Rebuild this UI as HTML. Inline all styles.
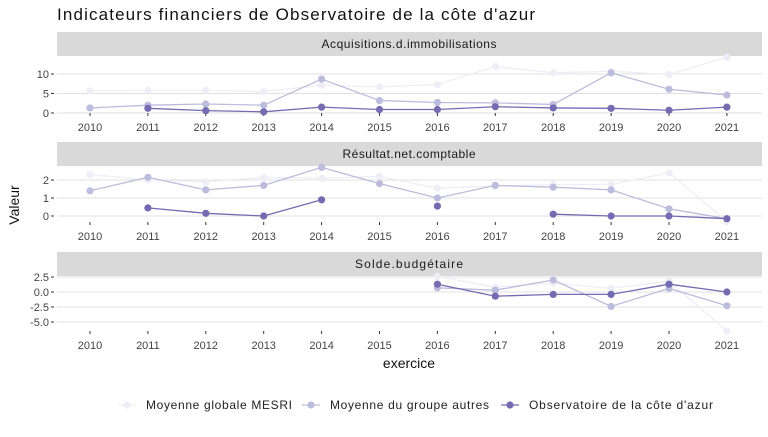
<!DOCTYPE html>
<html><head><meta charset="utf-8"><style>
body{margin:0;background:#fff;font-family:"Liberation Sans",sans-serif}
svg text{font-family:"Liberation Sans",sans-serif}
</style></head><body>
<svg id="c" width="768" height="432">
<text x="57" y="20" font-size="17" fill="#111" textLength="478">Indicateurs financiers de Observatoire de la côte d'azur</text>
<text transform="translate(19,205) rotate(-90)" font-size="14" text-anchor="middle" fill="#111">Valeur</text>
<text x="409" y="368" font-size="14" text-anchor="middle" fill="#111">exercice</text>
</svg>
<script>
const years=[2010,2011,2012,2013,2014,2015,2016,2017,2018,2019,2020,2021];
const seriesNames=["Moyenne globale MESRI","Moyenne du groupe autres","Observatoire de la côte d'azur"];
const colors=["#efedf5","#bcbddc","#756bb1"];
const panelTitles=["Acquisitions.d.immobilisations","Résultat.net.comptable","Solde.budgétaire"];
const acqMesri=[5.7,5.8,5.8,5.5,7.1,6.7,7.3,11.9,10.3,10.7,9.9,14.3];
const acqGroupe=[1.3,2.0,2.3,2.0,8.7,3.2,2.7,2.6,2.2,10.3,6.1,4.6];
const acqObs=[null,1.2,0.6,0.3,1.5,0.9,0.9,1.6,1.3,1.2,0.7,1.5];
const resMesri=[2.3,2.0,1.9,2.15,2.1,2.2,1.55,1.65,1.75,1.75,2.4,-0.3];
const resGroupe=[1.4,2.15,1.45,1.7,2.7,1.8,1.0,1.7,1.6,1.45,0.4,-0.15];
const resObs=[null,0.45,0.15,0,0.9,null,0.55,null,0.1,0,0,-0.15];
const solMesri=[null,null,null,null,null,null,2.6,0.8,1.5,0.6,1.8,-6.5];
const solGroupe=[null,null,null,null,null,null,0.7,0.3,2.0,-2.4,0.6,-2.3];
const solObs=[null,null,null,null,null,null,1.3,-0.7,-0.4,-0.4,1.3,0.0];
const ticks1=[0,5,10],ticks2=[0,1,2],ticks3=[-5,-2.5,0,2.5];
const tickLabels3=["-5.0","-2.5","0.0","2.5"];
const NS="http://www.w3.org/2000/svg",svg=document.getElementById('c');
function mk(t,a,p){const e=document.createElementNS(NS,t);for(const k in a)e.setAttribute(k,a[k]);(p||svg).appendChild(e);return e;}
const X=y=>90+(y-2010)*57.9;
const stripLen=[175,133,108];
const panels=[
 {title:panelTitles[0],strip:32,data:[acqMesri,acqGroupe,acqObs],ticks:ticks1,labels:ticks1.map(String),v0:0,y0:113,v1:10,y1:74,yl:127},
 {title:panelTitles[1],strip:142,data:[resMesri,resGroupe,resObs],ticks:ticks2,labels:ticks2.map(String),v0:0,y0:216,v1:2,y1:180,yl:236},
 {title:panelTitles[2],strip:252,data:[solMesri,solGroupe,solObs],ticks:ticks3,labels:tickLabels3,v0:0,y0:292,v1:2.5,y1:277,yl:345}
];
panels.forEach((p,pi)=>{
 const g=mk('g',{});
 
 
 const Y=v=>p.y0+(v-p.v0)*(p.y1-p.y0)/(p.v1-p.v0);
 const s=mk('rect',{x:57,y:p.strip,width:705,height:24,fill:'#d9d9d9'},g);
 
 
 const st=mk('text',{x:409,y:p.strip+16,'font-size':12,'text-anchor':'middle',fill:'#1a1a1a',textLength:stripLen[pi]},g);st.textContent=p.title;
 
 
 p.ticks.forEach((t,i)=>{
  mk('line',{x1:57,x2:762,y1:Y(t),y2:Y(t),stroke:'#e0e0e0','stroke-width':1},g);
  mk('line',{x1:51,x2:54,y1:Y(t),y2:Y(t),stroke:'#333'},g);
  const tl=mk('text',{x:49,y:Y(t)+4,'font-size':11,'text-anchor':'end',fill:'#444'},g);tl.textContent=p.labels[i];
  
  
 });
 years.forEach(y=>{
  mk('line',{x1:X(y),x2:X(y),y1:p.yl-14,y2:p.yl-11,stroke:'#333'},g);
  const xl=mk('text',{x:X(y),y:p.yl+4,'font-size':11,'text-anchor':'middle',fill:'#444'},g);xl.textContent=y;
  
  
 });
 p.data.forEach((arr,si)=>{
  for(let i=1;i<arr.length;i++)if(arr[i]!=null&&arr[i-1]!=null){
   const l=mk('line',{x1:X(years[i-1]),y1:Y(arr[i-1]),x2:X(years[i]),y2:Y(arr[i]),stroke:colors[si],'stroke-width':1.3},g);
   
   
  }
  arr.forEach((v,i)=>{if(v==null)return;
   const c=mk('circle',{cx:X(years[i]),cy:Y(v),r:3.6,fill:colors[si]},g);
   
   
  });
 });
});
const lx=[118,302,501];
const legLen=[146,159,184];
seriesNames.forEach((n,i)=>{
 const g=mk('g',{});
 
 
 mk('line',{x1:lx[i],x2:lx[i]+18,y1:405,y2:405,stroke:colors[i],'stroke-width':1.3},g);
 mk('circle',{cx:lx[i]+9,cy:405,r:3.6,fill:colors[i]},g);
 const t=mk('text',{x:lx[i]+28,y:409,'font-size':12,fill:'#222',textLength:legLen[i]},g);t.textContent=n;
});
</script>
</body></html>
